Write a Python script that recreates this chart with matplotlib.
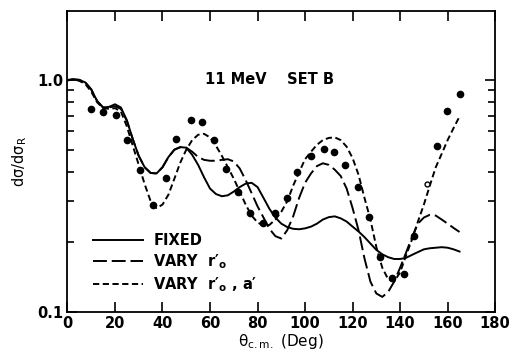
import numpy as np
import matplotlib
matplotlib.use('Agg')
import matplotlib.pyplot as plt
from matplotlib.ticker import FixedLocator, NullFormatter

plt.rcParams['font.family'] = ['DejaVu Sans']
plt.rcParams['font.weight'] = 'bold'
plt.rcParams['mathtext.default'] = 'regular'
plt.rcParams['lines.scale_dashes'] = False

# angle grid for the three calculated curves (deg)
theta = np.arange(0, 167.5, 2.5)

fixed = [0.995, 1.005, 1.0, 0.975, 0.91, 0.81, 0.76, 0.765, 0.785, 0.76,
         0.67, 0.555, 0.47, 0.42, 0.397, 0.395, 0.42, 0.465, 0.50, 0.513,
         0.51, 0.475, 0.43, 0.38, 0.34, 0.322, 0.315, 0.318, 0.33, 0.345,
         0.357, 0.36, 0.345, 0.31, 0.278, 0.255, 0.24, 0.232, 0.228, 0.227,
         0.229, 0.233, 0.24, 0.25, 0.256, 0.258, 0.253, 0.245, 0.233, 0.222,
         0.21, 0.197, 0.185, 0.177, 0.172, 0.169, 0.169, 0.171, 0.176, 0.181,
         0.186, 0.188, 0.189, 0.19, 0.189, 0.186, 0.182]

vary_r = [0.995, 1.005, 1.0, 0.975, 0.91, 0.81, 0.76, 0.76, 0.77, 0.75,
          0.665, 0.555, 0.47, 0.42, 0.397, 0.395, 0.42, 0.465, 0.50, 0.513,
          0.51, 0.49, 0.465, 0.452, 0.448, 0.448, 0.452, 0.455, 0.445, 0.415,
          0.37, 0.325, 0.285, 0.255, 0.228, 0.212, 0.207, 0.225, 0.258, 0.31,
          0.36, 0.395, 0.425, 0.437, 0.43, 0.41, 0.385, 0.34, 0.28, 0.225,
          0.17, 0.135, 0.12, 0.116, 0.122, 0.135, 0.155, 0.18, 0.21, 0.24,
          0.255, 0.262, 0.26, 0.25, 0.24, 0.23, 0.221]

vary_ra = [1.0, 1.005, 0.99, 0.96, 0.89, 0.80, 0.755, 0.75, 0.755, 0.73,
           0.63, 0.52, 0.43, 0.355, 0.30, 0.28, 0.29, 0.32, 0.375, 0.44,
           0.50, 0.55, 0.58, 0.585, 0.565, 0.52, 0.47, 0.42, 0.375, 0.33,
           0.29, 0.26, 0.243, 0.235, 0.237, 0.25, 0.27, 0.30, 0.35, 0.40,
           0.455, 0.49, 0.525, 0.55, 0.562, 0.565, 0.55, 0.515, 0.46, 0.39,
           0.31, 0.25, 0.19, 0.155, 0.138, 0.135, 0.148, 0.175, 0.205, 0.245,
           0.29, 0.35, 0.42, 0.48, 0.55, 0.62, 0.695]

# measured points
x_data = [9.9, 15.1, 20.3, 25.1, 30.7, 36.0, 41.5, 45.8, 51.9, 56.8,
          61.8, 66.8, 71.9, 77.0, 82.2, 87.5, 92.3, 96.8, 102.4, 107.9,
          112.3, 117.0, 122.1, 126.7, 131.6, 136.5, 141.6, 146.0, 155.5, 159.8,
          165.1]
y_data = [0.750, 0.724, 0.703, 0.552, 0.409, 0.288, 0.379, 0.556, 0.669, 0.657,
          0.553, 0.413, 0.329, 0.268, 0.241, 0.268, 0.310, 0.400, 0.472, 0.504,
          0.489, 0.429, 0.344, 0.256, 0.172, 0.140, 0.145, 0.213, 0.520, 0.733,
          0.873]
x_open = [151.2]
y_open = [0.356]

fig = plt.figure(figsize=(5.11, 3.56), dpi=100)
ax = fig.add_axes([0.132, 0.124, 0.837, 0.845])

ax.plot(theta, fixed, color='black', lw=1.4, label='FIXED')
ax.plot(theta, vary_r, color='black', lw=1.4, dashes=(10, 3.5),
        label='VARY  r\u2032$_{o}$')
ax.plot(theta, vary_ra, color='black', lw=1.4, dashes=(4.5, 2.5),
        label='VARY  r\u2032$_{o}$ , a\u2032')
ax.plot(x_data, y_data, 'o', color='black', ms=4.5)
ax.plot(x_open, y_open, 'o', mfc='white', mec='black', ms=3.5, mew=1)

ax.set_yscale('log')
ax.set_xlim(0, 180)
ax.set_ylim(0.1, 1.98)
ax.set_xticks(range(0, 181, 20))
ax.set_xticklabels([str(v) for v in range(0, 181, 20)])
ax.yaxis.set_major_locator(FixedLocator([0.1, 1.0]))
ax.yaxis.set_minor_locator(FixedLocator([0.2, 0.3, 0.4, 0.5, 0.6, 0.7, 0.8, 0.9]))
ax.yaxis.set_minor_formatter(NullFormatter())
ax.set_yticklabels(['0.1', '1.0'])
ax.tick_params(which='both', direction='in', top=True, right=True, width=1.2,
               labelsize=10.5, pad=3)
ax.tick_params(which='major', length=7)
ax.tick_params(which='minor', length=5)
for s in ax.spines.values():
    s.set_linewidth(1.3)

ax.text(58, 1.0, '11 MeV    SET B', fontsize=10.5, va='center', ha='left')
ax.set_ylabel(r'd$\sigma$/d$\sigma_{R}$', fontsize=10.5, labelpad=6)
ax.set_xlabel(r'$\theta_{c.m.}$ (Deg)', fontsize=11, labelpad=1)

ax.legend(loc='lower left', bbox_to_anchor=(0.03, 0.015), frameon=False,
          handlelength=3.4, handletextpad=0.7, labelspacing=0.3, fontsize=10.5)

fig.savefig('out.png', dpi=100)
